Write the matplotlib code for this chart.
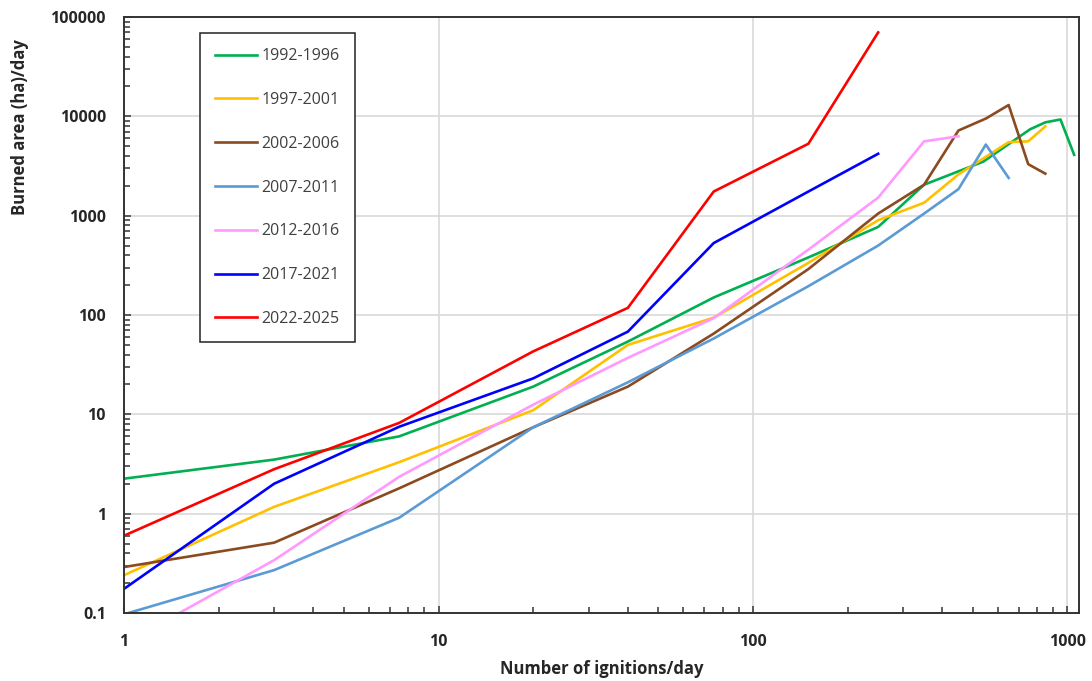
import matplotlib
matplotlib.use('Agg')
import matplotlib.pyplot as plt
from matplotlib.ticker import LogLocator, FuncFormatter, NullFormatter

plt.rcParams['font.family'] = ['Open Sans', 'DejaVu Sans']

# series (ignitions/day -> burned ha/day)
labels = ['1992-1996', '1997-2001', '2002-2006', '2007-2011', '2012-2016', '2017-2021', '2022-2025']
colors = ['#00b050', '#ffc000', '#8b4a1f', '#5b9bd5', '#ff99ff', '#0000ff', '#ff0000']

x_9296 = [1, 3, 7.5, 20, 40, 75, 150, 250, 350, 540, 760, 850, 950, 1050]
y_9296 = [2.25, 3.5, 6, 19, 54, 150, 380, 770, 2050, 3500, 7400, 8700, 9300, 4100]

x_9701 = [1, 3, 7.5, 20, 40, 75, 150, 250, 350, 450, 650, 750, 850]
y_9701 = [0.24, 1.17, 3.3, 11, 50, 94, 335, 900, 1350, 2600, 5500, 5600, 7900]

x_0206 = [1, 3, 7.5, 20, 40, 75, 150, 250, 350, 450, 550, 650, 750, 850]
y_0206 = [0.29, 0.51, 1.8, 7.4, 19, 65, 290, 1050, 2050, 7200, 9500, 13000, 3300, 2650]

x_0711 = [1, 3, 7.5, 20, 40, 75, 150, 250, 350, 450, 550, 650]
y_0711 = [0.097, 0.27, 0.91, 7.4, 21, 58, 195, 500, 1050, 1850, 5200, 2400]

x_1216 = [1.5, 3, 7.5, 20, 40, 75, 150, 250, 350, 450]
y_1216 = [0.1, 0.34, 2.35, 12.5, 37, 93, 455, 1520, 5600, 6300]

x_1721 = [1, 3, 7.5, 20, 40, 75, 150, 250]
y_1721 = [0.175, 2.0, 7.5, 23, 68, 530, 1750, 4200]

x_2225 = [1, 3, 7.5, 20, 40, 75, 150, 250]
y_2225 = [0.6, 2.8, 8.2, 43, 118, 1750, 5300, 70000]

xs = [x_9296, x_9701, x_0206, x_0711, x_1216, x_1721, x_2225]
ys = [y_9296, y_9701, y_0206, y_0711, y_1216, y_1721, y_2225]

fig = plt.figure(figsize=(10.92, 6.81), dpi=100)
ax = fig.add_axes([0.1136, 0.0999, 0.8745, 0.8751])

for x, y, lab, c in zip(xs, ys, labels, colors):
    ax.plot(x, y, color=c, lw=1.9, label=lab, solid_joinstyle='round')

ax.set_xscale('log')
ax.set_yscale('log')
ax.set_xlim(1, 1088)
ax.set_ylim(0.1, 100000)

ax.xaxis.set_major_locator(LogLocator(base=10, numticks=10))
ax.yaxis.set_major_locator(LogLocator(base=10, numticks=10))
ax.xaxis.set_minor_locator(LogLocator(base=10, subs=range(2, 10), numticks=20))
ax.yaxis.set_minor_locator(LogLocator(base=10, subs=range(2, 10), numticks=20))
fmt = FuncFormatter(lambda v, p: '%g' % v)
ax.xaxis.set_major_formatter(fmt)
ax.yaxis.set_major_formatter(fmt)
ax.xaxis.set_minor_formatter(NullFormatter())
ax.yaxis.set_minor_formatter(NullFormatter())
ax.xaxis.get_offset_text().set_visible(False)
ax.yaxis.get_offset_text().set_visible(False)

ax.grid(True, which='major', color='#d9d9d9', lw=1.2)
ax.set_axisbelow(True)
for s in ax.spines.values():
    s.set_color('#333333')
    s.set_linewidth(1.4)

ax.tick_params(which='both', direction='in', color='#333333', width=1.1)
ax.tick_params(which='major', length=5)
ax.tick_params(which='minor', length=4)
ax.tick_params(axis='y', which='major', pad=13)
ax.tick_params(axis='x', which='major', pad=15)
for t in ax.get_xticklabels() + ax.get_yticklabels():
    t.set_fontsize(11.5)
    t.set_fontweight('bold')
    t.set_color('#262626')

ax.set_xlabel('Number of ignitions/day', fontsize=12, fontweight='bold', color='#262626', labelpad=7)
fig.text(20 / 1092, 1 - 127 / 681, 'Burned area (ha)/day', rotation=90, ha='center', va='center',
         fontsize=12, fontweight='bold', color='#262626')

leg = ax.legend(loc='upper left', bbox_to_anchor=(0.0796, 0.973), fancybox=False, framealpha=1,
                edgecolor='#222222', fontsize=11.5, labelspacing=1.74, handlelength=2.6,
                handletextpad=0.3, borderpad=0.95, borderaxespad=0)
leg.get_frame().set_linewidth(1.1)
for t in leg.get_texts():
    t.set_color('#404040')

fig.savefig('out.png', dpi=100)
